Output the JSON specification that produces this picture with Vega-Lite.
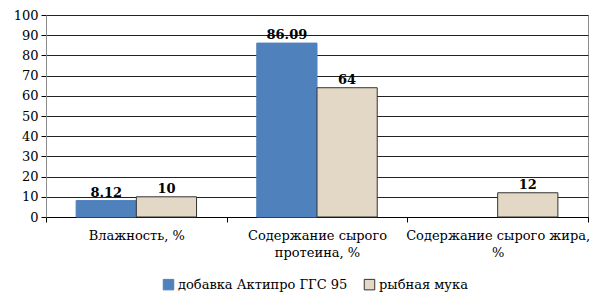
{
  "$schema": "https://vega.github.io/schema/vega-lite/v6.json",
  "autosize": "none",
  "width": 542,
  "height": 202,
  "padding": {"left": 46, "top": 15, "right": 12, "bottom": 90},
  "background": "white",
  "config": {
    "font": "DejaVu Serif",
    "view": {"stroke": "#8c8c8c", "strokeWidth": 1},
    "axis": {"labelFont": "DejaVu Serif", "labelLimit": 0},
    "legend": {"labelFont": "DejaVu Serif", "labelLimit": 0},
    "text": {"font": "DejaVu Serif"}
  },
  "data": {
    "values": [
      {"category": "Влажность, %", "series": "добавка Актипро ГГС 95", "value": 8.12, "label": "8.12"},
      {"category": "Влажность, %", "series": "рыбная мука", "value": 10, "label": "10"},
      {"category": "Содержание сырого протеина, %", "series": "добавка Актипро ГГС 95", "value": 86.09, "label": "86.09"},
      {"category": "Содержание сырого протеина, %", "series": "рыбная мука", "value": 64, "label": "64"},
      {"category": "Содержание сырого жира, %", "series": "рыбная мука", "value": 12, "label": "12"}
    ]
  },
  "encoding": {
    "x": {
      "field": "category",
      "type": "nominal",
      "sort": null,
      "scale": {"paddingInner": 0, "paddingOuter": 0},
      "axis": {
        "title": null,
        "labelAngle": 0,
        "tickBand": "extent",
        "tickColor": "#000",
        "tickSize": 5,
        "domainColor": "#000",
        "labelFontSize": 13,
        "labelColor": "#000",
        "labelPadding": 7,
        "labelLineHeight": 17,
        "labelExpr": "datum.label == 'Содержание сырого протеина, %' ? ['Содержание сырого', 'протеина, %'] : datum.label == 'Содержание сырого жира, %' ? ['Содержание сырого жира,', '%'] : datum.label"
      }
    },
    "xOffset": {
      "field": "series",
      "type": "nominal",
      "sort": ["добавка Актипро ГГС 95", "рыбная мука"],
      "scale": {"paddingInner": 0, "paddingOuter": 0.5}
    },
    "y": {
      "field": "value",
      "type": "quantitative",
      "scale": {"domain": [0, 100], "nice": false},
      "axis": {
        "title": null,
        "values": [0, 10, 20, 30, 40, 50, 60, 70, 80, 90, 100],
        "grid": true,
        "gridColor": "#222",
        "gridWidth": 1,
        "domainColor": "#8c8c8c",
        "tickColor": "#000",
        "tickSize": 5,
        "labelFontSize": 13,
        "labelColor": "#000",
        "labelPadding": 3
      }
    }
  },
  "layer": [
    {
      "mark": {"type": "bar", "strokeWidth": 1},
      "encoding": {
        "color": {
          "field": "series",
          "type": "nominal",
          "sort": ["добавка Актипро ГГС 95", "рыбная мука"],
          "scale": {
            "domain": ["добавка Актипро ГГС 95", "рыбная мука"],
            "range": ["#4f81bd", "#e2d8c5"]
          },
          "legend": {
            "title": null,
            "orient": "none",
            "direction": "horizontal",
            "legendX": 116,
            "legendY": 263,
            "symbolType": "square",
            "symbolSize": 110,
            "symbolStrokeWidth": 1,
            "labelFontSize": 13,
            "labelColor": "#000",
            "labelOffset": 3,
            "columnPadding": 14
          }
        },
        "stroke": {
          "field": "series",
          "type": "nominal",
          "scale": {
            "domain": ["добавка Актипро ГГС 95", "рыбная мука"],
            "range": ["#4f81bd", "#333333"]
          },
          "legend": null
        }
      }
    },
    {
      "mark": {
        "type": "text",
        "baseline": "bottom",
        "dy": -1,
        "fontWeight": "bold",
        "fontSize": 13,
        "color": "#000"
      },
      "encoding": {
        "text": {"field": "label", "type": "nominal"}
      }
    }
  ]
}
